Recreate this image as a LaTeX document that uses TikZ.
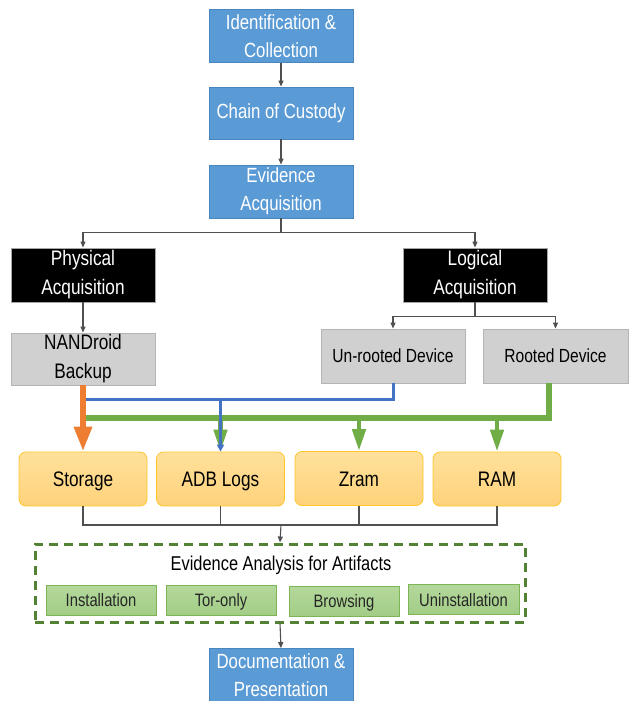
\documentclass[tikz,border=0pt]{standalone}
\usepackage{fontspec}
\setmainfont{Liberation Sans}[FakeStretch=0.82]
\usetikzlibrary{arrows.meta,calc}
\definecolor{boxblue}{HTML}{5B9BD5}
\definecolor{boxblueedge}{HTML}{4A86BE}
\definecolor{grayfill}{HTML}{D0D0D0}
\definecolor{grayedge}{HTML}{B4B4B4}
\definecolor{yeltop}{HTML}{FFE19C}
\definecolor{yelbot}{HTML}{FFD27A}
\definecolor{yeledge}{HTML}{FFC52A}
\definecolor{grntop}{HTML}{B4D89C}
\definecolor{grnbot}{HTML}{A2CD86}
\definecolor{grnedge}{HTML}{7DB556}
\definecolor{dashgreen}{HTML}{548235}
\definecolor{orangeline}{HTML}{ED7D31}
\definecolor{blueline}{HTML}{4472C4}
\definecolor{greenline}{HTML}{70AD47}
\definecolor{connector}{HTML}{505050}
\tikzset{
  bluebox/.style={draw=boxblueedge,line width=0.8pt,fill=boxblue,text=white,minimum width=144pt,minimum height=53pt,inner sep=0pt,align=center,font=\fontsize{20.5}{28}\selectfont},
  blackbox/.style={draw=gray!70,line width=0.8pt,fill=black,text=white,minimum width=144pt,minimum height=54pt,inner sep=0pt,align=center,font=\fontsize{21}{29}\selectfont},
  graybox/.style={draw=grayedge,line width=0.8pt,fill=grayfill,text=black,minimum width=144pt,minimum height=54pt,inner sep=0pt,align=center},
  yelbox/.style={draw=yeledge,line width=0.8pt,top color=yeltop,bottom color=yelbot,rounded corners=7pt,text=black,minimum width=128pt,minimum height=54pt,inner sep=0pt,text height=17pt,text depth=2pt,font=\fontsize{21}{25}\selectfont},
  grnbox/.style={draw=grnedge,line width=0.8pt,top color=grntop,bottom color=grnbot,text=black!85,minimum width=110pt,minimum height=30pt,inner sep=0pt,text height=14pt,text depth=1pt,font=\fontsize{18}{22}\selectfont},
  conn/.style={draw=connector,line width=1.1pt},
  connarrow/.style={conn,-{Triangle[length=6pt,width=5pt]}},
  greenarrow/.style={draw=greenline,line width=4.5pt,-{Triangle[length=22pt,width=13pt]}},
}
\begin{document}
\begin{tikzpicture}[x=1pt,y=-1pt]
\useasboundingbox (0,0) rectangle (633,701);
% top chain
\node[bluebox] (idc) at (281,36) {Identification \&\\Collection};
\node[bluebox,minimum height=52pt] (coc) at (281,113) {Chain of Custody};
\node[bluebox] (eva) at (281,191.5) {Evidence\\Acquisition};
\node[blackbox] (phys) at (83,275) {Physical\\Acquisition};
\node[blackbox] (logi) at (475,275) {Logical\\Acquisition};
\node[graybox,minimum height=52pt,font=\fontsize{21}{29}\selectfont] (nand) at (83,359) {NANDroid\\Backup};
\node[graybox,font=\fontsize{19}{23}\selectfont] (unr) at (393,356) {Un-rooted Device};
\node[graybox,minimum width=145pt,font=\fontsize{19}{23}\selectfont] (root) at (555.5,356) {Rooted Device};
% yellow boxes
\node[yelbox] (stor) at (83,479) {Storage};
\node[yelbox] (adb) at (220.5,479) {ADB Logs};
\node[yelbox] (zram) at (359,478.5) {Zram};
\node[yelbox] (ram) at (497,479) {RAM};
% analysis group
\node[draw=dashgreen,line width=3pt,dash pattern=on 9pt off 6pt,minimum width=490pt,minimum height=78pt,inner sep=0pt] (ana) at (280,583) {};
\node[font=\fontsize{20}{24}\selectfont,inner sep=0pt] (anatitle) at (281,565) {Evidence Analysis for Artifacts};
\node[grnbox] (inst) at (101,600) {Installation};
\node[grnbox] (tor) at (221,600) {Tor-only};
\node[grnbox] (brow) at (344,601) {Browsing};
\node[grnbox,minimum width=111pt] (unin) at (463.5,599.5) {Uninstallation};
\node[bluebox] (doc) at (281,675) {Documentation \&\\Presentation};
% thin connectors
\draw[connarrow] (idc.south) -- (coc.north);
\draw[connarrow] (coc.south) -- (eva.north);
\coordinate (evsplit) at ($(eva.south)+(0,14)$);
\draw[conn] (eva.south) -- (evsplit);
\draw[connarrow] (evsplit) -| (phys.north);
\draw[connarrow] (evsplit) -| (logi.north);
\draw[connarrow] (phys.south) -- (nand.north);
\coordinate (lgsplit) at ($(logi.south)+(0,14)$);
\draw[conn] (logi.south) -- (lgsplit);
\draw[connarrow] (lgsplit) -| (unr.north);
\draw[connarrow] (lgsplit) -| (root.north);
% coloured connectors
\coordinate (gjoin) at (83,418);
\coordinate (bjoin) at (83,399);
\coordinate (rootout) at ($(root.south)+(-6.5,0)$);
\draw[greenline,line width=5.5pt] (rootout) |- (gjoin);
\draw[greenarrow] ($(gjoin-|adb.north)+(0,2)$) -- (adb.north);
\draw[greenarrow] ($(gjoin-|zram.north)+(0,2)$) -- (zram.north);
\draw[greenarrow] ($(gjoin-|ram.north)+(0,2)$) -- (ram.north);
\draw[blueline,line width=3pt] (unr.south) |- (bjoin);
\draw[blueline,line width=3pt,-{Triangle[length=7pt,width=7pt]}] ($(bjoin-|adb.north)+(0,-1.5)$) -- (adb.north);
\draw[orangeline,line width=6pt,-{Triangle[length=25pt,width=17pt]}] (nand.south) -- (stor.north);
% to analysis
\coordinate (ysplit) at (281,525);
\draw[conn] (stor.south) |- (ysplit);
\draw[conn] (ram.south) |- (ysplit);
\draw[conn] (adb.south) |- (ysplit);
\draw[conn] (zram.south) |- (ysplit);
\draw[connarrow] (ysplit) -- (ana.north);
\draw[connarrow] (ana.south) -- (doc.north);
\end{tikzpicture}
\end{document}
